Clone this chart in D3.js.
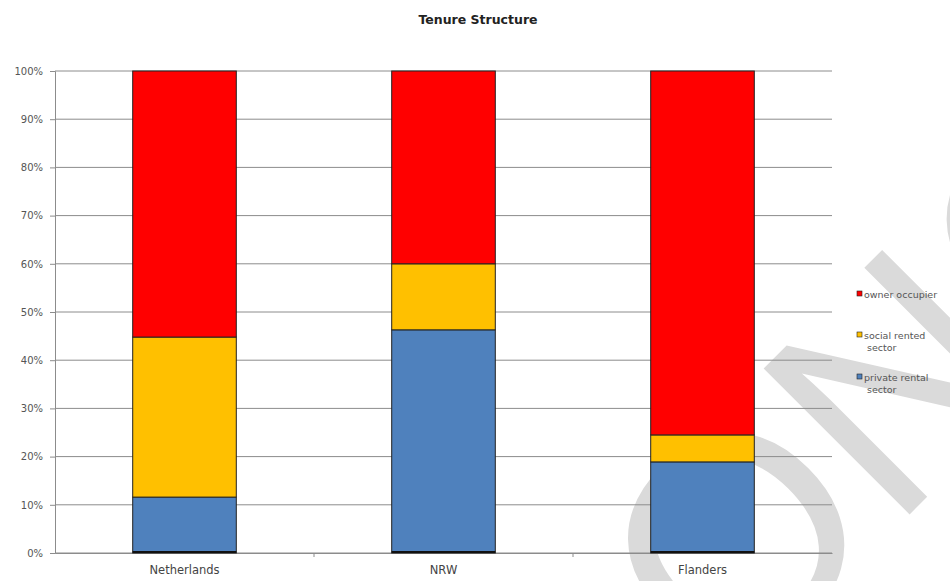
<!DOCTYPE html>
<html>
<head>
<meta charset="utf-8">
<script src="https://cdn.jsdelivr.net/npm/d3@7"></script>
<style>
  body { margin: 0; background: #fff; }
  svg { display: block; font-family: "DejaVu Sans", Verdana, sans-serif; }
</style>
</head>
<body>
<svg id="chart" width="950" height="581"></svg>
<script>
// data (percent of housing stock)
const regions = ["Netherlands", "NRW", "Flanders"];
const privateRental = [11.6, 46.3, 18.9];
const socialRented = [33.2, 13.7, 5.6];
const ownerOccupier = [55.2, 40.0, 75.5];
const seriesNames = ["private rental sector", "social rented sector", "owner occupier"];
const yTicks = [0, 10, 20, 30, 40, 50, 60, 70, 80, 90, 100];

const colors = ["#4f81bd", "#ffc000", "#ff0000"];

const svg = d3.select("#chart");

// watermark sits behind everything
svg.append("text")
    .attr("transform", "translate(574,850) rotate(-45)")
    .attr("font-family", "Liberation Sans, Arial, sans-serif")
    .attr("font-size", 300)
    .attr("fill", "#dadada")
    .text("CONCEPT");

const margin = { top: 71, left: 55 };
const plotW = 777, plotH = 482;

const g = svg.append("g").attr("transform", `translate(${margin.left},${margin.top})`);

const x = d3.scaleBand().domain(regions).range([0, plotW]);
const y = d3.scaleLinear().domain([0, 100]).range([plotH, 0]);

// gridlines
g.append("g")
    .selectAll("line")
    .data(yTicks)
    .enter()
    .append("line")
    .attr("x1", 0)
    .attr("x2", plotW)
    .attr("y1", d => y(d))
    .attr("y2", d => y(d))
    .attr("stroke", "#8c8c8c")
    .attr("stroke-width", 1);

// y axis
const yAxis = g.append("g")
    .call(d3.axisLeft(y).tickValues(yTicks).tickSize(5).tickFormat(d => d + "%"));
yAxis.select(".domain").attr("stroke", "#8c8c8c");
yAxis.selectAll(".tick line").attr("stroke", "#8c8c8c");
yAxis.selectAll(".tick text")
    .attr("x", -12)
    .attr("font-size", 10)
    .attr("fill", "#555")
    .attr("font-family", "DejaVu Sans, Verdana, sans-serif");

// x axis (ticks on category boundaries)
const xAxis = g.append("g")
    .attr("transform", `translate(0,${plotH})`)
    .call(d3.axisBottom(x).tickSize(0).tickPadding(13));
xAxis.select(".domain").attr("stroke", "#8c8c8c");
xAxis.selectAll(".tick text")
    .attr("font-size", 11.5)
    .attr("fill", "#444")
    .attr("font-family", "DejaVu Sans, Verdana, sans-serif");
g.append("g")
    .selectAll("line")
    .data(regions.slice(1))
    .enter()
    .append("line")
    .attr("x1", d => x(d))
    .attr("x2", d => x(d))
    .attr("y1", plotH)
    .attr("y2", plotH + 4)
    .attr("stroke", "#8c8c8c");

// stacked bars
const table = regions.map((r, i) => ({
    region: r,
    "private rental sector": privateRental[i],
    "social rented sector": socialRented[i],
    "owner occupier": ownerOccupier[i]
}));
const stack = d3.stack().keys(seriesNames)(table);

const barW = x.bandwidth() * 0.4;

g.append("g")
    .selectAll("g")
    .data(stack)
    .enter()
    .append("g")
    .attr("fill", (d, i) => colors[i])
    .selectAll("rect")
    .data(d => d)
    .enter()
    .append("rect")
    .attr("x", d => x(d.data.region) + (x.bandwidth() - barW) / 2)
    .attr("width", barW)
    .attr("y", d => y(d[1]))
    .attr("height", d => y(d[0]) - y(d[1]))
    .attr("stroke", "#222")
    .attr("stroke-width", 1);

// dark base edge under each bar
g.append("g")
    .selectAll("line")
    .data(regions)
    .enter()
    .append("line")
    .attr("x1", d => x(d) + (x.bandwidth() - barW) / 2)
    .attr("x2", d => x(d) + (x.bandwidth() + barW) / 2)
    .attr("y1", plotH - 1)
    .attr("y2", plotH - 1)
    .attr("stroke", "#111")
    .attr("stroke-width", 2);

// title
svg.append("text")
    .attr("x", 478)
    .attr("y", 24)
    .attr("text-anchor", "middle")
    .attr("font-size", 12.5)
    .attr("font-weight", "bold")
    .attr("fill", "#222")
    .text("Tenure Structure");

// legend (top entry = owner occupier)
const legendItems = [
    { lines: ["owner occupier"], color: colors[2], y: 294 },
    { lines: ["social rented", "sector"], color: colors[1], y: 335 },
    { lines: ["private rental", "sector"], color: colors[0], y: 377 }
];
const legend = svg.append("g");
legendItems.forEach(item => {
    legend.append("rect")
        .attr("x", 857)
        .attr("y", item.y - 3)
        .attr("width", 5)
        .attr("height", 5)
        .attr("fill", item.color)
        .attr("stroke", "#222")
        .attr("stroke-width", 0.6);
    item.lines.forEach((t, j) => {
        legend.append("text")
            .attr("x", j === 0 ? 864 : 867)
            .attr("y", item.y + 3.5 + j * 12)
            .attr("font-size", 9.5)
            .attr("fill", "#555")
            .text(t);
    });
});
</script>
</body>
</html>
